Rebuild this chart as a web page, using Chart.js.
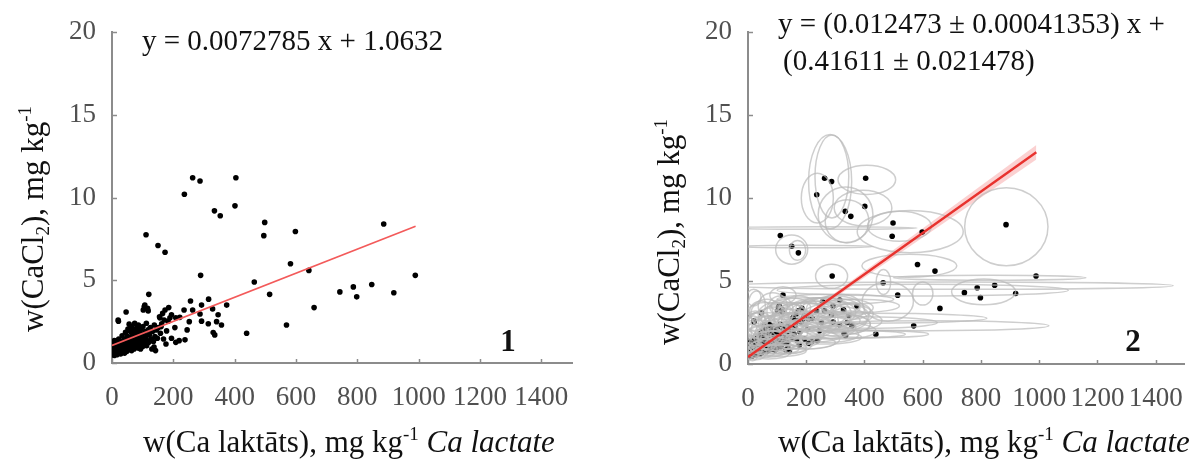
<!DOCTYPE html>
<html>
<head>
<meta charset="utf-8">
<script src="https://cdn.jsdelivr.net/npm/chart.js@4.4.1/dist/chart.umd.min.js"></script>
<style>
  html, body { margin: 0; padding: 0; background: #fff; }
  #wrap { position: relative; width: 1202px; height: 459px; overflow: hidden; }
  .pane { position: absolute; top: 0; height: 459px; }
</style>
</head>
<body>
<div id="wrap">
  <div class="pane" style="left:0;width:600px"><canvas id="c1" width="600" height="459"></canvas></div>
  <div class="pane" style="left:600px;width:602px"><canvas id="c2" width="602" height="459"></canvas></div>
</div>
<script>
// Ca extracted with Ca lactate (x) vs. CaCl2 (y), mg/kg
const caLactate = [
  263, 287, 404, 236, 401, 334, 353, 498, 495, 598, 886, 111, 150, 173, 582, 642, 289, 464, 989, 514,
  743, 787, 798, 847, 919, 659, 569, 439, 374, 120,
  315, 256, 292, 328, 235, 173, 194, 221, 263, 287, 346, 341, 357, 314, 292, 252, 245, 219, 238, 194,
  208, 176, 330, 335, 183, 162, 151, 178, 205, 156, 189, 208, 107, 102, 118, 46, 21, 137,
  2, 3, 4, 5, 6, 7, 8, 9, 11, 12, 13, 15, 16, 17, 19, 20, 21, 22, 24, 25,
  26, 28, 29, 30, 32, 33, 35, 36, 38, 40, 41, 42, 44, 45, 47, 48, 50, 51, 52, 54,
  55, 56, 58, 59, 60, 62, 63, 64, 65, 66, 68, 69, 70, 72, 73, 74, 75, 77, 78, 80,
  81, 82, 84, 85, 86, 88, 89, 90, 92, 93, 95, 96, 98, 100, 101, 103, 105, 106, 108, 110,
  112, 113, 115, 116, 118, 120, 122, 125, 128, 130, 132, 135, 138, 140, 142, 145, 148, 155, 158, 160,
  165, 168, 170, 185
];
const caCl2 = [
  11.2, 11.0, 11.2, 10.2, 9.5, 9.2, 8.9, 8.5, 7.7, 7.95, 8.4, 7.75, 7.1, 6.7, 6.0, 5.6, 5.3, 4.9, 5.3, 4.15,
  4.3, 4.6, 4.0, 4.75, 4.25, 3.35, 2.3, 1.8, 3.5, 4.15,
  3.86, 3.75, 3.5, 3.27, 3.2, 3.2, 2.92, 2.76, 3.2, 2.96, 2.92, 2.5, 2.3, 2.37, 2.53, 2.5, 2.0, 1.35, 1.4, 1.5,
  1.25, 1.15, 1.84, 1.7, 2.53, 2.37, 2.14, 1.94, 2.14, 2.73, 2.73, 2.73, 3.5, 3.2, 3.15, 3.08, 2.53, 0.96,
  0.55, 0.85, 1.25, 0.65, 1.0, 0.45, 1.35, 0.75, 1.1, 0.6, 0.9, 1.3, 0.5, 0.7, 1.05, 2.6, 0.85, 1.45, 0.6, 1.15,
  0.95, 0.55, 1.3, 0.8, 1.0, 1.65, 0.7, 1.2, 0.9, 1.45, 0.6, 1.1, 1.85, 0.85, 1.3, 0.7, 1.0, 1.6, 2.05, 0.8,
  1.25, 2.35, 1.5, 0.95, 1.9, 1.1, 2.2, 0.75, 1.4, 1.75, 1.0, 2.05, 1.3, 0.85, 1.6, 2.4, 1.15, 1.85, 0.95, 1.45,
  2.15, 1.2, 1.7, 0.9, 2.3, 1.35, 1.95, 1.1, 1.55, 0.85, 2.05, 1.3, 1.75, 1.0, 2.2, 1.45, 3.4, 1.2, 1.9, 1.6,
  2.4, 1.05, 1.35, 3.3, 2.0, 1.25, 1.7, 2.15, 1.45, 0.85, 1.9, 1.3, 2.3, 1.6, 0.75, 2.0, 1.5, 2.8, 1.8, 2.2,
  3.0, 1.45, 2.6, 3.35
];

// Regression results
const olsSlope = 0.0072785, olsIntercept = 1.0632;               // panel 1
const wSlope = 0.012473, wSlopeErr = 0.00041353;                 // panel 2
const wIntercept = 0.41611, wInterceptErr = 0.021478;
const fitRange = [0, 990];

// Uncertainty ellipses (panel 2): centre x, centre y, half-width, half-height (data units)
const ellCx = [282, 288, 408, 238, 335, 395, 340, 557, 520, 887, 250, 200, 150, 170, 287, 554, 809, 700, 830, 600,
  465, 480, 600, 615, 420, 280,
  20, 35, 50, 60, 75, 90, 100, 110, 120, 130, 150, 160, 175, 190, 205, 220, 235, 250, 265, 280,
  300, 315, 330, 345, 360, 25, 45, 15, 70, 105, 140, 85, 120, 10, 55, 200, 380, 300, 400, 440,
  5, 12, 18, 28, 30, 40, 40, 55, 65, 80, 80, 95, 95, 115, 125, 140, 145, 165, 180, 185,
  215, 230, 245, 260, 275, 290, 310, 320, 340, 350, 30, 60, 100, 150, 200, 250, 300, 70, 110, 20];
const ellCy = [11.0, 11.3, 11.1, 10.0, 9.0, 9.4, 8.6, 7.98, 8.3, 8.27, 8.2, 7.08, 6.9, 6.85, 5.29, 5.92, 4.35, 4.72, 5.2, 4.45,
  4.94, 3.76, 4.25, 2.3, 2.76, 1.8,
  1.0, 1.5, 0.9, 2.0, 1.3, 2.5, 1.6, 3.2, 2.2, 1.2, 2.8, 1.8, 3.2, 2.4, 1.5, 2.9, 3.3, 2.2, 3.0, 1.8,
  2.7, 3.6, 2.4, 2.9, 3.2, 2.6, 3.1, 0.6, 0.8, 0.9, 1.0, 3.5, 4.15, 1.6, 2.7, 3.5, 3.5, 3.9, 2.5, 1.8,
  0.8, 1.3, 2.0, 0.7, 3.5, 1.2, 2.3, 1.6, 3.0, 1.0, 2.0, 1.4, 3.0, 1.9, 2.8, 1.5, 3.4, 2.3, 1.3, 2.9,
  2.0, 3.0, 2.6, 1.6, 3.4, 2.4, 3.0, 2.0, 3.4, 2.6, 1.9, 2.6, 2.4, 2.1, 2.6, 3.1, 3.3, 0.6, 0.8, 4.0];
const ellRx = [74, 58, 99, 55, 94, 99, 75, 182, 110, 143, 330, 230, 55, 28, 55, 163, 110, 760, 330, 500,
  25, 88, 35, 418, 400, 260,
  30, 45, 50, 60, 70, 55, 80, 45, 70, 90, 60, 100, 70, 90, 110, 80, 60, 120, 90, 100,
  110, 70, 90, 70, 60, 35, 40, 20, 60, 70, 60, 50, 45, 25, 80, 120, 140, 200, 250, 180,
  15, 25, 30, 35, 30, 55, 50, 65, 55, 75, 70, 85, 60, 90, 80, 110, 70, 120, 120, 100,
  130, 110, 140, 130, 110, 130, 120, 120, 90, 110, 40, 80, 100, 90, 110, 120, 100, 70, 90, 25];
const ellRy = [2.84, 2.5, 0.88, 1.5, 1.67, 1.08, 1.3, 1.27, 0.9, 2.35, 0.08, 0.08, 0.88, 0.6, 0.73, 0.69, 0.78, 0.22, 0.15, 0.35,
  0.75, 1.18, 0.7, 0.3, 0.3, 0.25,
  0.6, 0.8, 0.5, 0.9, 0.7, 1.0, 0.8, 0.9, 0.9, 0.6, 0.8, 0.7, 0.9, 0.8, 0.6, 0.9, 0.7, 0.7, 1.0, 0.5,
  0.8, 0.6, 0.6, 0.7, 0.5, 0.6, 0.7, 0.4, 0.4, 0.3, 0.35, 0.8, 0.5, 1.0, 0.4, 0.5, 0.4, 0.3, 0.35, 0.2,
  0.5, 0.7, 0.9, 0.45, 0.9, 0.6, 0.8, 0.7, 0.9, 0.5, 0.9, 0.6, 0.7, 0.8, 0.9, 0.6, 0.6, 0.8, 0.4, 0.8,
  0.7, 0.8, 0.6, 0.4, 0.6, 0.7, 0.7, 0.5, 0.5, 0.6, 1.2, 1.1, 1.0, 1.2, 1.1, 0.9, 0.8, 0.3, 0.35, 0.5];

const xTicks = [0, 200, 400, 600, 800, 1000, 1200, 1400];
const yTicks = [0, 5, 10, 15, 20];

const SERIF = "'Liberation Serif', 'Times New Roman', serif";
const AXIS_GREY = '#8c8c8c';
const TICK_TEXT = '#505050';

const points = caLactate.map((v, i) => ({ x: v, y: caCl2[i] }));

function fontStr(r) {
  return (r.italic ? 'italic ' : '') + (r.bold ? 'bold ' : '') + r.size + 'px ' + SERIF;
}
// Draws a sequence of text runs (with sub/superscripts) starting at x,y or centred on x
function drawRuns(ctx, runs, x, y, centred) {
  let total = 0;
  runs.forEach(r => { ctx.font = fontStr(r); r.w = ctx.measureText(r.t).width; total += r.w; });
  let cx = centred ? x - total / 2 : x;
  ctx.textBaseline = 'alphabetic';
  ctx.textAlign = 'left';
  runs.forEach(r => { ctx.font = fontStr(r); ctx.fillText(r.t, cx, y + (r.dy || 0)); cx += r.w; });
}

const yTitleRuns = () => [
  { t: 'w(CaCl', size: 31 }, { t: '2', size: 19, dy: 6 }, { t: '), mg kg', size: 31 }, { t: '-1', size: 19, dy: -12 }
];
const xTitleRuns = () => [
  { t: 'w(Ca laktāts), mg kg', size: 31 }, { t: '-1', size: 19, dy: -12 }, { t: ' ', size: 31 },
  { t: 'Ca lactate', size: 31, italic: true }
];

function makeTextPlugin(cfg) {
  return {
    id: 'panelText',
    afterDraw(chart) {
      const ctx = chart.ctx;
      ctx.save();
      ctx.fillStyle = '#111';
      // y-axis title (rotated)
      ctx.save();
      ctx.translate(cfg.yTitle[0], cfg.yTitle[1]);
      ctx.rotate(-Math.PI / 2);
      drawRuns(ctx, yTitleRuns(), 0, 10, true);
      ctx.restore();
      // x-axis title
      drawRuns(ctx, xTitleRuns(), cfg.xTitle[0], cfg.xTitle[1], false);
      // regression equation
      cfg.eq.forEach(line => drawRuns(ctx, [{ t: line.t, size: 29 }], line.x, line.y, false));
      // panel number
      drawRuns(ctx, [{ t: cfg.num.t, size: 31, bold: true }], cfg.num.x, cfg.num.y, true);
      ctx.restore();
    }
  };
}

// short inward tick marks on both axes
const tickMarks = {
  id: 'tickMarks',
  afterDraw(chart) {
    const { ctx, chartArea: a } = chart;
    const xs = chart.scales.x, ys = chart.scales.y;
    ctx.save();
    ctx.strokeStyle = AXIS_GREY;
    ctx.lineWidth = 1.5;
    xs.ticks.forEach(t => {
      const px = Math.round(xs.getPixelForValue(t.value)) + 0.5;
      ctx.beginPath(); ctx.moveTo(px, a.bottom); ctx.lineTo(px, a.bottom - 4); ctx.stroke();
    });
    ys.ticks.forEach(t => {
      const py = Math.round(ys.getPixelForValue(t.value)) + 0.5;
      ctx.beginPath(); ctx.moveTo(a.left, py); ctx.lineTo(a.left + 5, py); ctx.stroke();
    });
    ctx.restore();
  }
};

// uncertainty ellipses, drawn over the points and under the fitted line
const ellipses = {
  id: 'ellipses',
  beforeDatasetDraw(chart, args) {
    if (args.index !== 0) return;
    const { ctx, chartArea: a } = chart;
    const xs = chart.scales.x, ys = chart.scales.y;
    ctx.save();
    ctx.beginPath(); ctx.rect(a.left, a.top, a.right - a.left, a.bottom - a.top); ctx.clip();
    ctx.strokeStyle = 'rgba(185,185,185,0.7)';
    ctx.lineWidth = 1.5;
    ellCx.forEach((cx, i) => {
      const px = xs.getPixelForValue(cx), py = ys.getPixelForValue(ellCy[i]);
      const rx = Math.abs(xs.getPixelForValue(cx + ellRx[i]) - px);
      const ry = Math.abs(ys.getPixelForValue(ellCy[i] + ellRy[i]) - py);
      ctx.beginPath(); ctx.ellipse(px, py, rx, Math.max(ry, 0.8), 0, 0, Math.PI * 2); ctx.stroke();
    });
    ctx.restore();
  }
};

function scalesFor(yWidth, xHeight) {
  const tickFont = { family: SERIF, size: 27 };
  const plain = v => String(v);
  return {
    x: {
      type: 'linear', min: 0, max: 1500,
      afterBuildTicks: s => { s.ticks = xTicks.map(v => ({ value: v })); },
      afterFit: s => { s.height = xHeight; },
      grid: { display: false, drawTicks: false },
      border: { display: true, color: AXIS_GREY, width: 2 },
      ticks: { font: tickFont, color: TICK_TEXT, padding: 19, maxRotation: 0, autoSkip: false, callback: plain }
    },
    y: {
      type: 'linear', min: 0, max: 20,
      afterBuildTicks: s => { s.ticks = yTicks.map(v => ({ value: v })); },
      afterFit: s => { s.width = yWidth; },
      grid: { display: false, drawTicks: false },
      border: { display: true, color: AXIS_GREY, width: 2 },
      ticks: { font: tickFont, color: TICK_TEXT, padding: 16, callback: plain }
    }
  };
}

const common = {
  responsive: false,
  animation: false,
  devicePixelRatio: 1,
  plugins: { legend: { display: false }, tooltip: { enabled: false } }
};

// Panel 1: ordinary least squares
new Chart(document.getElementById('c1'), {
  type: 'scatter',
  data: {
    datasets: [
      {
        type: 'line', order: 0,
        data: fitRange.map(x => ({ x, y: olsSlope * x + olsIntercept })),
        borderColor: '#f35a5a', borderWidth: 1.6, pointRadius: 0, fill: false
      },
      {
        order: 1, data: points,
        pointRadius: 2.8, pointBackgroundColor: '#000', pointBorderWidth: 0
      }
    ]
  },
  options: Object.assign({}, common, {
    layout: { padding: { top: 24, right: 28, left: 0, bottom: 0 } },
    scales: scalesFor(112, 96)
  }),
  plugins: [tickMarks, makeTextPlugin({
    yTitle: [33, 219],
    xTitle: [143, 452],
    eq: [{ t: 'y = 0.0072785 x + 1.0632', x: 142, y: 50 }],
    num: { t: '1', x: 508, y: 351 }
  })]
});

// Panel 2: regression with errors in both variables
new Chart(document.getElementById('c2'), {
  type: 'scatter',
  data: {
    datasets: [
      {
        type: 'line', order: 0,
        data: fitRange.map(x => ({ x, y: wSlope * x + wIntercept })),
        borderColor: '#e8322e', borderWidth: 2.4, pointRadius: 0, fill: false
      },
      {
        type: 'line', order: 2,
        data: fitRange.map(x => ({ x, y: (wSlope + wSlopeErr) * x + wIntercept + wInterceptErr })),
        borderColor: 'rgba(0,0,0,0)', borderWidth: 0, pointRadius: 0, fill: false
      },
      {
        type: 'line', order: 2,
        data: fitRange.map(x => ({ x, y: (wSlope - wSlopeErr) * x + wIntercept - wInterceptErr })),
        borderColor: 'rgba(0,0,0,0)', borderWidth: 0, pointRadius: 0,
        fill: '-1', backgroundColor: 'rgba(240,90,90,0.28)'
      },
      {
        order: 1, data: points,
        pointRadius: 2.8, pointBackgroundColor: '#000', pointBorderWidth: 0
      }
    ]
  },
  options: Object.assign({}, common, {
    layout: { padding: { top: 26, right: 0, left: 0, bottom: 0 } },
    scales: scalesFor(148, 95)
  }),
  plugins: [ellipses, tickMarks, makeTextPlugin({
    yTitle: [69, 232],
    xTitle: [178, 452],
    eq: [
      { t: 'y = (0.012473 ± 0.00041353) x +', x: 178, y: 33 },
      { t: '(0.41611 ± 0.021478)', x: 183, y: 70 }
    ],
    num: { t: '2', x: 533, y: 351 }
  })]
});
</script>
</body>
</html>
